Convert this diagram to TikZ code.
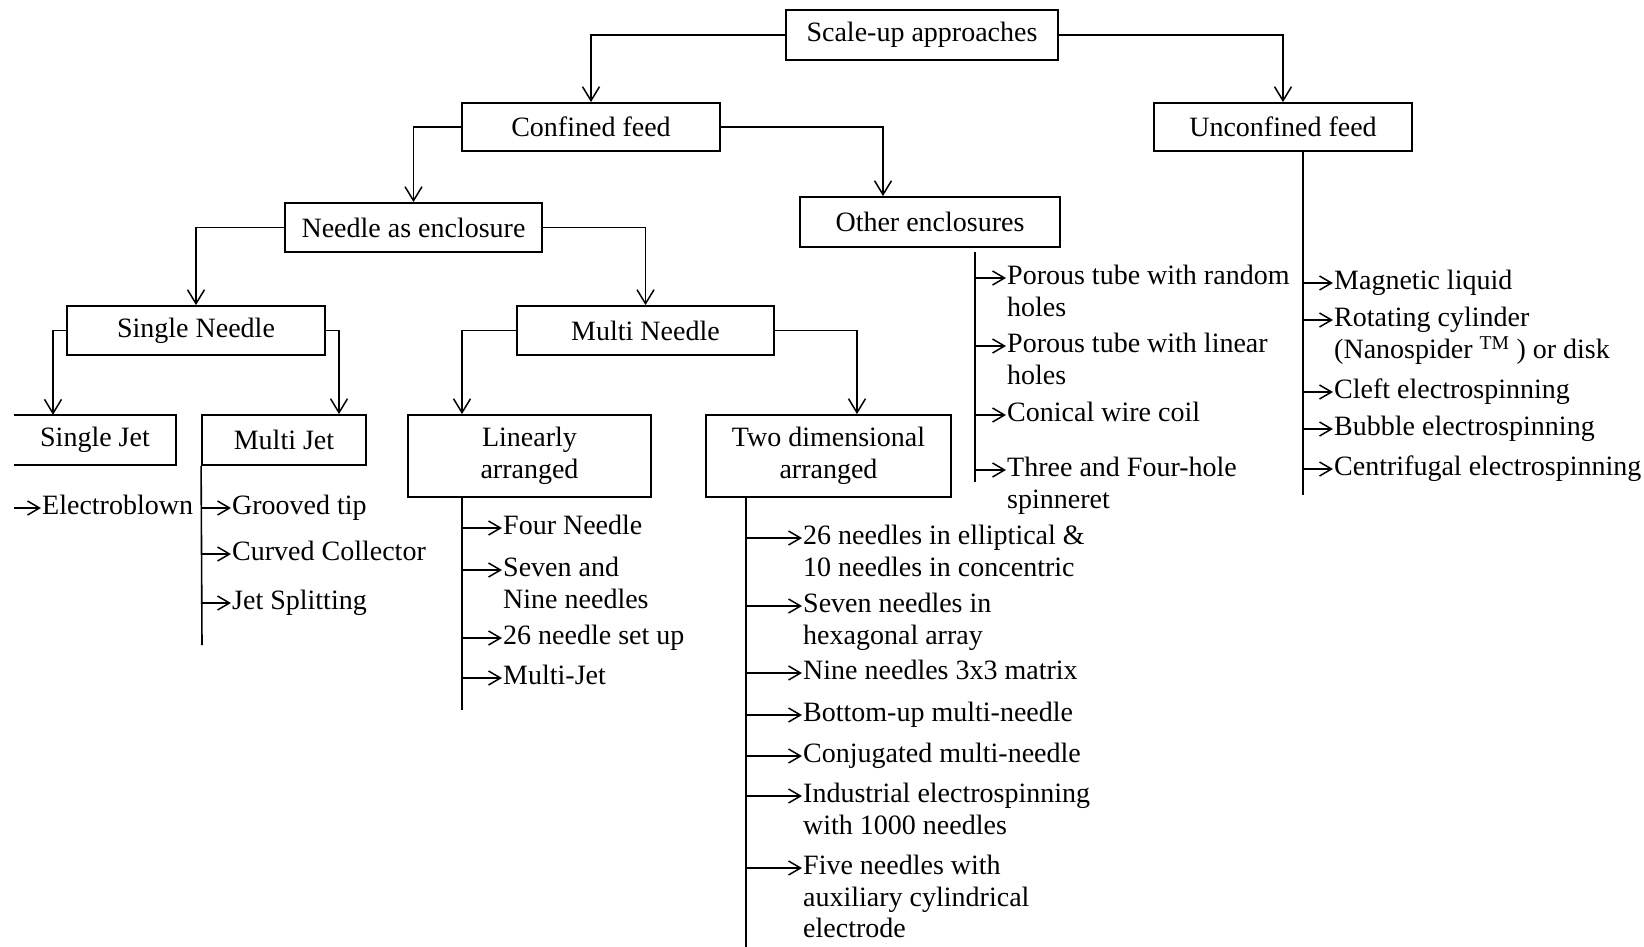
\documentclass[tikz,border=0pt]{standalone}
\usepackage{fontspec}
\setmainfont{Liberation Serif}
\usetikzlibrary{arrows.meta}
\tikzset{
  every node/.style={font=\fontsize{28}{31.5}\selectfont},
  box/.style={draw, line width=1.8pt, inner sep=0pt, align=center},
  boxline/.style={line width=1.8pt},
  tree/.style={line width=1.5pt, -{Straight Barb[length=14pt,width=17pt]}},
  spine/.style={line width=1.6pt},
  leaf/.style={line width=1.5pt, -{Straight Barb[length=12pt,width=14pt]}},
  item/.style={anchor=north west, inner sep=0pt, align=left}
}
% #1 name, #2 spine coordinate, #3 text x, #4 arrow y, #5 text
\newcommand\itm[5]{%
  \node[item] (#1) at (#3,#4-15.55) {\strut #5};
  \coordinate (#1-a) at ([yshift=-15.55pt,xshift=-1pt]#1.north west);
  \draw[leaf] (#2 |- #1-a) -- (#1-a);
}
\begin{document}
\begin{tikzpicture}[x=1pt,y=-1pt]
\useasboundingbox (0,0) rectangle (1644,946);

% boxes
\node[box,minimum width=272,minimum height=49.5] (top) at (922,35) {Scale-up approaches};
\node[box,minimum width=258,minimum height=48] (conf) at (591,127) {Confined feed};
\node[box,minimum width=258,minimum height=48] (unconf) at (1283,127) {Unconfined feed};
\node[box,minimum width=257,minimum height=49] (needle) at (413.5,227.5) {Needle as enclosure};
\node[box,minimum width=260,minimum height=50] (other) at (930,222) {Other enclosures};
\node[box,minimum width=258,minimum height=49] (sneedle) at (196,330.5) {Single Needle};
\node[box,minimum width=257,minimum height=49] (mneedle) at (645.5,330.5) {Multi Needle};
\node[inner sep=0pt,minimum width=162,minimum height=50] (sjet) at (95,440) {Single Jet};
\draw[boxline] (sjet.north west) -- (sjet.north east) -- (sjet.south east) -- (sjet.south west);
\node[box,minimum width=164,minimum height=50] (mjet) at (284,440) {Multi Jet};
\node[box,minimum width=243,minimum height=82] (lin) at (529.5,456) {Linearly\\arranged};
\node[box,minimum width=245,minimum height=82] (two) at (828.5,456) {Two dimensional\\arranged};

% tree connectors
\draw[tree] (top.west) -| (conf.north);
\draw[tree] (top.east) -| (unconf.north);
\draw[tree] (conf.west) -| (needle.north);
\draw[tree] (conf.east) -| ([xshift=-47pt]other.north);
\draw[tree] (needle.west) -| (sneedle.north);
\draw[tree] (needle.east) -| (mneedle.north);
\draw[tree] (sneedle.west) -| ([xshift=-42pt]sjet.north);
\draw[tree] (sneedle.east) -| ([xshift=55pt]mjet.north);
\draw[tree] (mneedle.west) -| ([xshift=-67.5pt]lin.north);
\draw[tree] (mneedle.east) -| ([xshift=28.5pt]two.north);

% spines
\coordinate (sjE) at (14,500);
\coordinate (mjE) at (202,645);
\draw[spine] (mjet.south west) -- (mjE);
\coordinate (linE) at (462,710);
\draw[spine] (linE |- lin.south) -- (linE);
\coordinate (twoE) at (746,950);
\draw[spine] (twoE |- two.south) -- (twoE);
\coordinate (othT) at (975,252);
\coordinate (othE) at (975,482);
\draw[spine] (othT) -- (othE);
\coordinate (uncE) at (1303,495);
\draw[spine] (uncE |- unconf.south) -- (uncE);

% single jet
\itm{e1}{sjE}{42}{508}{Electroblown}
% multi jet
\itm{m1}{mjE}{232}{508}{Grooved tip}
\itm{m2}{mjE}{232}{554}{Curved Collector}
\itm{m3}{mjE}{232}{603}{Jet Splitting}
% linearly arranged
\itm{l1}{linE}{503}{528}{Four Needle}
\itm{l2}{linE}{503}{570}{Seven and\\Nine needles}
\itm{l3}{linE}{503}{638}{26 needle set up}
\itm{l4}{linE}{503}{678}{Multi-Jet}
% two dimensional
\itm{t1}{twoE}{803}{538}{26 needles in elliptical \&\\10 needles in concentric}
\itm{t2}{twoE}{803}{606}{Seven needles in\\hexagonal array}
\itm{t3}{twoE}{803}{673}{Nine needles 3x3 matrix}
\itm{t4}{twoE}{803}{715}{Bottom-up multi-needle}
\itm{t5}{twoE}{803}{756}{Conjugated multi-needle}
\itm{t6}{twoE}{803}{796}{Industrial electrospinning\\with 1000 needles}
\itm{t7}{twoE}{803}{868}{Five needles with\\auxiliary cylindrical\\electrode}
% other enclosures
\itm{o1}{othE}{1007}{278}{Porous tube with random\\holes}
\itm{o2}{othE}{1007}{346}{Porous tube with linear\\holes}
\itm{o3}{othE}{1007}{415}{Conical wire coil}
\itm{o4}{othE}{1007}{470}{Three and Four-hole\\spinneret}
% unconfined
\itm{u1}{uncE}{1334}{283}{Magnetic liquid}
\itm{u2}{uncE}{1334}{320}{Rotating cylinder\\(Nanospider \textsuperscript{TM} ) or disk}
\itm{u3}{uncE}{1334}{392}{Cleft electrospinning}
\itm{u4}{uncE}{1334}{429}{Bubble electrospinning}
\itm{u5}{uncE}{1334}{469}{Centrifugal electrospinning}
\end{tikzpicture}
\end{document}
